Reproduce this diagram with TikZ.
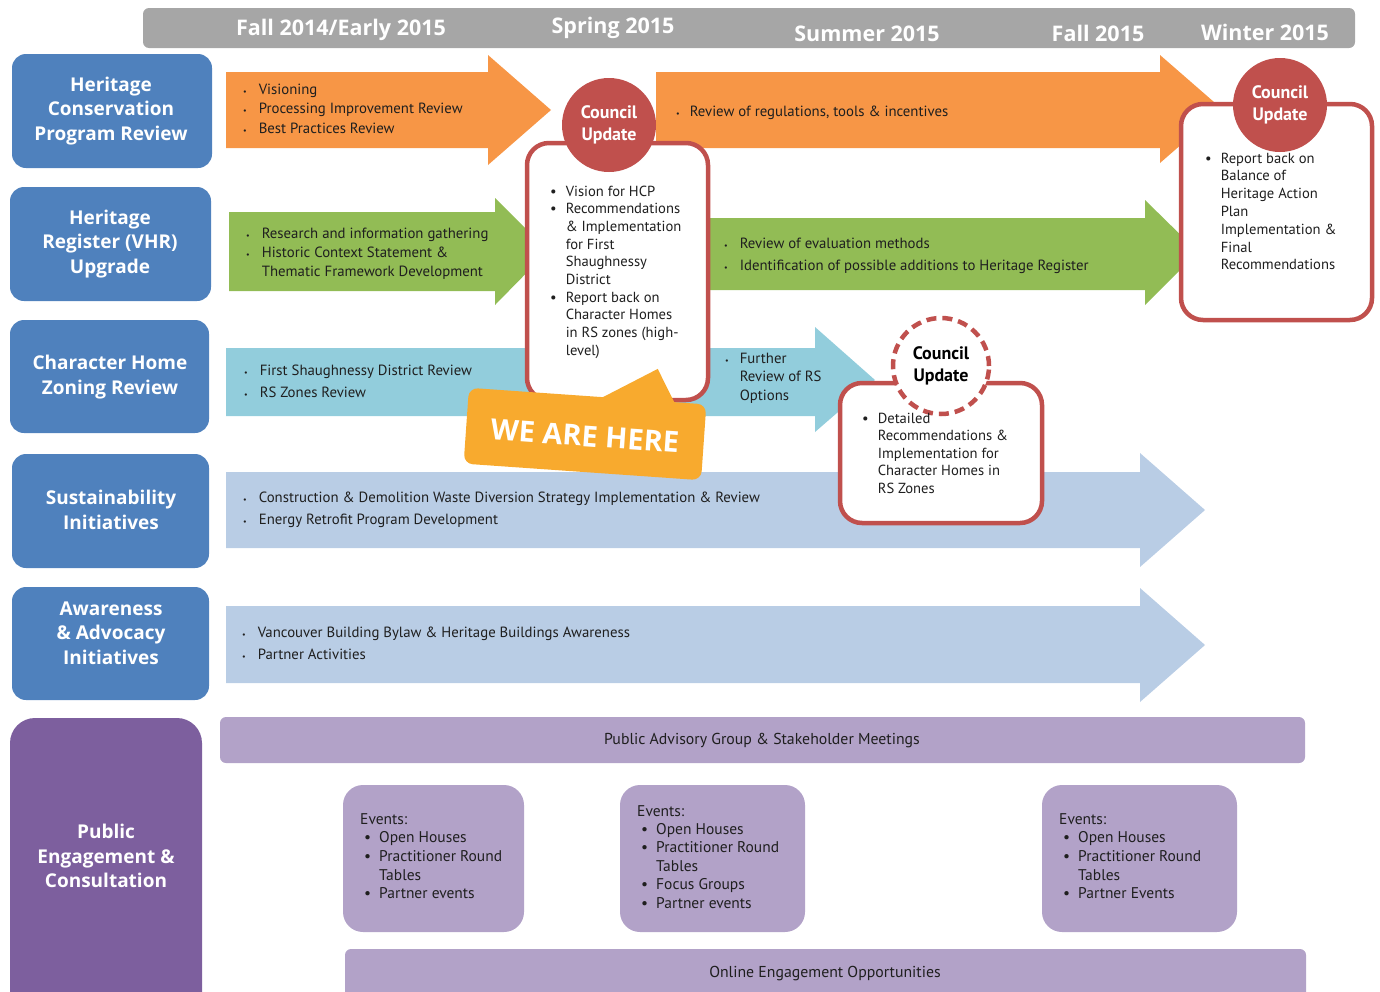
\documentclass[tikz,border=0pt]{standalone}
\usepackage{fontspec}
\setmainfont{PT Sans}
\newfontfamily\headf{Open Sans}
\definecolor{hdrgray}{HTML}{A6A6A6}
\definecolor{catblue}{HTML}{4F81BD}
\definecolor{orng}{HTML}{F79646}
\definecolor{grn}{HTML}{92BC55}
\definecolor{ltblue}{HTML}{92CDDC}
\definecolor{steel}{HTML}{B9CDE5}
\definecolor{pdark}{HTML}{7D5F9E}
\definecolor{plight}{HTML}{B2A2C8}
\definecolor{cured}{HTML}{C0504D}
\definecolor{callout}{HTML}{F8AA2E}
\definecolor{txtc}{HTML}{1F1F1F}
\newcommand{\blk}[4]{{\fontsize{#1}{#2}\selectfont\begin{tabular}[t]{@{}l@{\hspace{#3}}l@{}}#4\end{tabular}}}
\newcommand{\sbul}{{\fontsize{8}{8}\selectfont\textbullet}}
\begin{document}
\begin{tikzpicture}[x=1pt,y=-1pt,
  hdr/.style={text=white, font=\headf\bfseries\fontsize{21.5}{24}\selectfont, inner sep=0pt},
  cat/.style={text=white, font=\headf\bfseries\fontsize{19}{24.5}\selectfont, align=center, inner sep=0pt},
  catbox/.style={fill=catblue, rounded corners=14pt},
  small/.style={text=txtc, inner sep=0pt, anchor=base west},
  cucirc/.style={circle, fill=cured, minimum size=94pt, inner sep=0pt, text=white, font=\bfseries\fontsize{18}{22}\selectfont, align=center},
  cubox/.style={draw=cured, line width=4.5pt, fill=white, rounded corners=22pt},
  bar/.style={fill=plight, rounded corners=6pt},
  evbox/.style={fill=plight, rounded corners=20pt},
]
\useasboundingbox (0,0) rectangle (1380,991);
\clip (0,0) rectangle (1380,991);

% header
\fill[hdrgray, rounded corners=6pt] (143,8) rectangle (1355,48);
\node[hdr] (h1) at (341,30) {Fall 2014/Early 2015};
\node[hdr] (h2) at (613,28) {Spring 2015};
\node[hdr] (h3) at (867,34) {Summer 2015};
\node[hdr] (h4) at (1098,33) {Fall 2015};
\node[hdr] (h5) at (1265,32) {Winter 2015};

% category boxes
\fill[catbox] (12,54) rectangle (212,168);
\fill[catbox] (10,187) rectangle (211,301);
\fill[catbox] (10,320) rectangle (209,433);
\fill[catbox] (12,454) rectangle (209,568);
\fill[catbox] (12,587) rectangle (209,700);
\fill[pdark, rounded corners=25pt] (10,718) rectangle (202,1030);
\node[cat] (c1) at (111,111) {Heritage\\Conservation\\Program Review};
\node[cat] (c2) at (110,244) {Heritage\\Register (VHR)\\Upgrade};
\node[cat] (c3) at (110,377) {Character Home\\Zoning Review};
\node[cat] (c4) at (111,510) {Sustainability\\Initiatives};
\node[cat] (c5) at (111,633) {Awareness\\\& Advocacy\\Initiatives};
\node[cat] (c6) at (106,856) {Public\\Engagement \&\\Consultation};

% arrows
\fill[orng] (226,72) -- (488,72) -- (488,55) -- (551,110) -- (488,165) -- (488,148) -- (226,148) -- cycle;
\fill[orng] (656,72) -- (1160,72) -- (1160,55) -- (1222,109) -- (1160,163) -- (1160,148) -- (656,148) -- cycle;
\fill[grn] (229,212) -- (495,212) -- (495,198) -- (548,251) -- (495,305) -- (495,291) -- (229,291) -- cycle;
\fill[grn] (705,218) -- (1145,218) -- (1145,200) -- (1198,252) -- (1145,305) -- (1145,290) -- (705,290) -- cycle;
\fill[ltblue] (226,348) -- (815,348) -- (815,327) -- (875,380) -- (815,432) -- (815,416) -- (226,416) -- cycle;
\fill[steel] (226,472) -- (1140,472) -- (1140,453) -- (1205,510) -- (1140,567) -- (1140,548) -- (226,548) -- cycle;
\fill[steel] (226,606) -- (1140,606) -- (1140,588) -- (1205,645) -- (1140,702) -- (1140,683) -- (226,683) -- cycle;

% engagement bars
\fill[bar] (220,717) rectangle (1305,763);
\fill[bar] (345,949) rectangle (1306,1010);
\fill[evbox] (343,785) rectangle (524,932);
\fill[evbox] (620,785) rectangle (805,932);
\fill[evbox] (1042,785) rectangle (1237,932);

% council boxes
\draw[cubox] (527,143) rectangle (708,400);
\draw[cubox] (1181,104) rectangle (1372,320);
\draw[cubox] (840,383) rectangle (1042,523);
\node[cucirc] (cu1) at (609,125) {Council\\Update};
\node[cucirc] (cu2) at (1280,105) {Council\\Update};
\node[circle, draw=cured, line width=4.5pt, dash pattern=on 10pt off 6pt, fill=white, minimum size=96pt, inner sep=0pt, text=black, font=\bfseries\fontsize{18}{22}\selectfont, align=center] (cu3) at (941,366) {Council\\Update};

% callout
\begin{scope}[shift={(585,434)}, rotate=-4]
\fill[callout, rounded corners=9pt] (-119,-38) -- (119,-38) -- (119,38) -- (-119,38) -- cycle;
\fill[callout] (12,-36) -- (68,-70) -- (88,-36) -- cycle;
\end{scope}
\node[rotate=-4, text=white, inner sep=0pt, font=\headf\bfseries\fontsize{29}{30}\selectfont] (weh) at (585,436) {WE ARE HERE};

% arrow texts
\node[small] (t1) at (243,94) {\blk{14.8}{19.5pt}{12pt}{\sbul & Visioning\\ \sbul & Processing Improvement Review\\ \sbul & Best Practices Review}};
\node[small] (t2) at (676,116) {\blk{14.8}{19pt}{10pt}{\sbul & Review of regulations, tools \& incentives}};
\node[small] (t3) at (246,238) {\blk{14.8}{19pt}{12pt}{\sbul & Research and information gathering\\ \sbul & Historic Context Statement \&\\ & Thematic Framework Development}};
\node[small] (t4) at (724,248) {\blk{14.8}{22pt}{12pt}{\sbul & Review of evaluation methods\\ \sbul & Identification of possible additions to Heritage Register}};
\node[small] (t5) at (244,375) {\blk{14.8}{22pt}{12pt}{\sbul & First Shaughnessy District Review\\ \sbul & RS Zones Review}};
\node[small] (t6) at (725,363) {\blk{14.8}{18.5pt}{11pt}{\sbul & Further\\ & Review of RS\\ & Options}};
\node[small] (t7) at (243,502) {\blk{14.8}{22pt}{12pt}{\sbul & Construction \& Demolition Waste Diversion Strategy Implementation \& Review\\ \sbul & Energy Retrofit Program Development}};
\node[small] (t8) at (242,637) {\blk{14.8}{22pt}{12pt}{\sbul & Vancouver Building Bylaw \& Heritage Buildings Awareness\\ \sbul & Partner Activities}};

% council texts
\node[small] (b1) at (550,196) {\blk{14.6}{17.7pt}{9pt}{\textbullet & Vision for HCP\\ \textbullet & Recommendations\\ & \& Implementation\\ & for First\\ & Shaughnessy\\ & District\\ \textbullet & Report back on\\ & Character Homes\\ & in RS zones (high-\\ & level)}};
\node[small] (b2) at (1205,163) {\blk{14.6}{17.8pt}{9pt}{\textbullet & Report back on\\ & Balance of\\ & Heritage Action\\ & Plan\\ & Implementation \&\\ & Final\\ & Recommendations}};
\node[small] (b3) at (862,423) {\blk{14.6}{17.5pt}{9pt}{\textbullet & Detailed\\ & Recommendations \&\\ & Implementation for\\ & Character Homes in\\ & RS Zones}};

% engagement texts
\node[text=txtc, inner sep=0pt, font=\fontsize{15.8}{17}\selectfont] (pag) at (762,741) {Public Advisory Group \& Stakeholder Meetings};
\node[text=txtc, inner sep=0pt, font=\fontsize{15.8}{17}\selectfont] (oeo) at (825,974) {Online Engagement Opportunities};
\node[small] (e1) at (360,824) {\blk{15.5}{18.7pt}{8pt}{\multicolumn{2}{@{}l@{}}{Events:}\\ \hspace{4pt}\textbullet & Open Houses\\ \hspace{4pt}\textbullet & Practitioner Round\\ & Tables\\ \hspace{4pt}\textbullet & Partner events}};
\node[small] (e2) at (637,816) {\blk{15.5}{18.4pt}{8pt}{\multicolumn{2}{@{}l@{}}{Events:}\\ \hspace{4pt}\textbullet & Open Houses\\ \hspace{4pt}\textbullet & Practitioner Round\\ & Tables\\ \hspace{4pt}\textbullet & Focus Groups\\ \hspace{4pt}\textbullet & Partner events}};
\node[small] (e3) at (1059,824) {\blk{15.5}{18.7pt}{8pt}{\multicolumn{2}{@{}l@{}}{Events:}\\ \hspace{4pt}\textbullet & Open Houses\\ \hspace{4pt}\textbullet & Practitioner Round\\ & Tables\\ \hspace{4pt}\textbullet & Partner Events}};
\end{tikzpicture}
\end{document}
